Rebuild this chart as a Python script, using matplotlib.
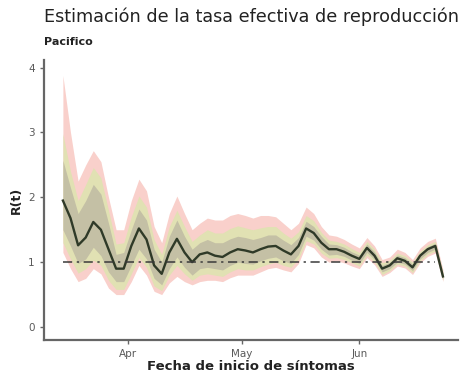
import numpy as np
import pandas as pd
import matplotlib
matplotlib.use("Agg")
import matplotlib.pyplot as plt
import matplotlib.dates as mdates

# Rt estimates every two days, Pacifico region
dates = pd.date_range("2020-03-15", "2020-06-23", freq="2D")

r_mean = [1.95, 1.68, 1.26, 1.38, 1.62, 1.50, 1.20, 0.90, 0.90, 1.25,
          1.52, 1.35, 0.95, 0.82, 1.15, 1.36, 1.15, 1.00, 1.12, 1.15,
          1.10, 1.08, 1.15, 1.20, 1.18, 1.15, 1.20, 1.24, 1.25, 1.18,
          1.12, 1.25, 1.52, 1.45, 1.30, 1.20, 1.20, 1.16, 1.10, 1.05,
          1.22, 1.10, 0.90, 0.95, 1.06, 1.02, 0.92, 1.10, 1.20, 1.25,
          0.78]

# outer interval
hi_95 = [3.88, 3.00, 2.25, 2.50, 2.72, 2.55, 2.00, 1.50, 1.50, 1.95,
         2.28, 2.10, 1.55, 1.30, 1.75, 2.02, 1.75, 1.50, 1.60, 1.68,
         1.65, 1.65, 1.72, 1.75, 1.72, 1.68, 1.72, 1.72, 1.70, 1.60,
         1.50, 1.60, 1.85, 1.75, 1.55, 1.42, 1.40, 1.35, 1.28, 1.22,
         1.38, 1.25, 1.04, 1.08, 1.20, 1.15, 1.04, 1.22, 1.32, 1.37,
         0.88]
lo_95 = [1.15, 0.90, 0.70, 0.75, 0.90, 0.82, 0.60, 0.50, 0.50, 0.70,
         0.95, 0.80, 0.55, 0.50, 0.68, 0.78, 0.70, 0.65, 0.70, 0.72,
         0.72, 0.70, 0.76, 0.80, 0.80, 0.80, 0.85, 0.90, 0.92, 0.88,
         0.85, 0.98, 1.27, 1.22, 1.08, 1.00, 1.02, 0.99, 0.94, 0.90,
         1.07, 0.96, 0.78, 0.84, 0.94, 0.91, 0.81, 0.99, 1.09, 1.14,
         0.70]

# middle interval
hi_75 = [2.98, 2.40, 1.95, 2.20, 2.46, 2.30, 1.80, 1.28, 1.30, 1.70,
         2.02, 1.85, 1.35, 1.12, 1.55, 1.80, 1.55, 1.32, 1.42, 1.50,
         1.45, 1.45, 1.52, 1.56, 1.53, 1.50, 1.53, 1.55, 1.55, 1.45,
         1.37, 1.47, 1.72, 1.64, 1.46, 1.34, 1.32, 1.28, 1.21, 1.15,
         1.32, 1.20, 0.99, 1.03, 1.14, 1.10, 1.00, 1.17, 1.27, 1.32,
         0.84]
lo_75 = [1.30, 1.05, 0.83, 0.90, 1.03, 0.95, 0.72, 0.58, 0.58, 0.82,
         1.07, 0.92, 0.63, 0.56, 0.80, 0.95, 0.82, 0.72, 0.80, 0.82,
         0.80, 0.78, 0.85, 0.90, 0.88, 0.88, 0.93, 0.97, 1.00, 0.95,
         0.92, 1.05, 1.33, 1.28, 1.14, 1.06, 1.07, 1.04, 0.99, 0.94,
         1.11, 1.00, 0.81, 0.87, 0.97, 0.94, 0.84, 1.02, 1.12, 1.17,
         0.72]

# inner interval
hi_50 = [2.57, 2.15, 1.75, 1.95, 2.20, 2.05, 1.60, 1.12, 1.15, 1.50,
         1.82, 1.65, 1.20, 1.00, 1.40, 1.65, 1.40, 1.20, 1.30, 1.35,
         1.30, 1.30, 1.36, 1.40, 1.38, 1.35, 1.38, 1.42, 1.42, 1.34,
         1.27, 1.38, 1.63, 1.55, 1.40, 1.28, 1.27, 1.23, 1.16, 1.11,
         1.28, 1.16, 0.95, 1.00, 1.11, 1.07, 0.97, 1.14, 1.24, 1.29,
         0.81]
lo_50 = [1.50, 1.25, 0.98, 1.05, 1.23, 1.10, 0.85, 0.70, 0.70, 0.95,
         1.20, 1.05, 0.75, 0.65, 0.90, 1.08, 0.92, 0.80, 0.90, 0.92,
         0.90, 0.88, 0.95, 1.00, 0.98, 0.97, 1.02, 1.06, 1.08, 1.02,
         0.98, 1.12, 1.40, 1.34, 1.20, 1.11, 1.12, 1.09, 1.03, 0.98,
         1.15, 1.04, 0.85, 0.90, 1.00, 0.97, 0.87, 1.05, 1.15, 1.20,
         0.74]

y_ticks = [0, 1, 2, 3, 4]

fig = plt.figure(figsize=(4.67, 3.79), dpi=100)
ax = fig.add_axes([0.094, 0.103, 0.887, 0.739])

ax.fill_between(dates, lo_95, hi_95, color="#f9d0cb", lw=0)
ax.fill_between(dates, lo_75, hi_75, color="#e1e1b3", lw=0)
ax.fill_between(dates, lo_50, hi_50, color="#c4c0a5", lw=0)
ax.plot(dates, r_mean, color="#2f3a28", lw=1.7, solid_joinstyle="round")
ax.plot([dates[0], dates[-2]], [1, 1], color="#3a3a3a", lw=1.1,
        linestyle=(0, (6, 3, 1.5, 3)))

ax.set_xlim(pd.Timestamp("2020-03-10"), pd.Timestamp("2020-06-27"))
ax.set_ylim(-0.2, 4.12)
ax.set_yticks(y_ticks)
ax.xaxis.set_major_locator(mdates.MonthLocator(bymonth=[4, 5, 6]))
ax.xaxis.set_major_formatter(mdates.DateFormatter("%b"))

for side in ["top", "right"]:
    ax.spines[side].set_visible(False)
for side in ["left", "bottom"]:
    ax.spines[side].set_color("#666666")
    ax.spines[side].set_linewidth(1.6)
ax.tick_params(colors="#666666", labelcolor="#5a5a5a", labelsize=7.5,
               length=3, width=1)

ax.set_xlabel("Fecha de inicio de síntomas", fontsize=9.5, fontweight="bold",
              color="#222222", labelpad=1)
ax.set_ylabel("R(t)", fontsize=9, fontweight="bold", color="#222222",
              labelpad=4)

fig.text(0.094, 0.955, "Estimación de la tasa efectiva de reproducción",
         fontsize=12.7, color="#222222", va="center")
fig.text(0.094, 0.89, "Pacifico", fontsize=8, fontweight="bold",
         color="#222222", va="center")

fig.savefig("out.png", dpi=100)
